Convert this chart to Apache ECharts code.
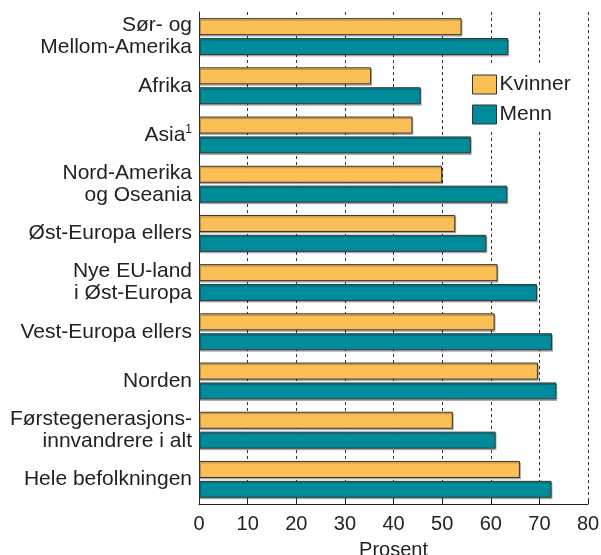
<!DOCTYPE html>
<html>
<head>
<meta charset="utf-8">
<script src="https://cdn.jsdelivr.net/npm/echarts@6/dist/echarts.min.js"></script>
<style>
  html, body { margin: 0; padding: 0; background: #fff; }
  #chart { width: 601px; height: 555px; }
</style>
</head>
<body>
<div id="chart"></div>
<script>
const categories = [
  'Sør- og\nMellom-Amerika',
  'Afrika',
  'Asia',
  'Nord-Amerika\nog Oseania',
  'Øst-Europa ellers',
  'Nye EU-land\ni Øst-Europa',
  'Vest-Europa ellers',
  'Norden',
  'Førstegenerasjons-\ninnvandrere i alt',
  'Hele befolkningen'
];
const kvinner = [54.0, 35.4, 43.9, 50.0, 52.7, 61.4, 60.8, 69.7, 52.2, 66.0];
const menn = [63.6, 45.6, 55.9, 63.4, 59.1, 69.5, 72.6, 73.5, 61.0, 72.5];
const xTicks = [0, 10, 20, 30, 40, 50, 60, 70, 80];

const chart = echarts.init(document.getElementById('chart'));

const barStyle = (color) => ({
  color: color,
  borderColor: '#333',
  borderWidth: 1,
  shadowColor: 'rgba(0,0,0,0.25)',
  shadowOffsetX: 1,
  shadowOffsetY: 1.5,
  shadowBlur: 0
});

chart.setOption({
  animation: false,
  textStyle: { fontFamily: 'Liberation Sans, Arial, sans-serif' },
  grid: { left: 199, right: 13, top: 12, bottom: 51, outerBoundsMode: 'none', containLabel: false },
  legend: {
    orient: 'vertical',
    left: 464,
    top: 64,
    padding: [10, 10, 6, 8],
    backgroundColor: '#fff',
    icon: 'rect',
    itemWidth: 24,
    itemHeight: 19,
    itemGap: 9,
    data: ['Kvinner', 'Menn'],
    textStyle: { fontSize: 21, color: '#222', padding: [0, 0, 0, -2] },
    itemStyle: { borderColor: '#333', borderWidth: 1 }
  },
  xAxis: {
    type: 'value',
    min: xTicks[0],
    max: xTicks[xTicks.length - 1],
    interval: 10,
    name: 'Prosent',
    nameLocation: 'middle',
    nameGap: 36,
    nameTextStyle: { fontSize: 20, color: '#222', verticalAlign: 'top' },
    axisLine: { show: true, lineStyle: { color: '#222', width: 1 } },
    axisTick: { show: true, inside: true, length: 4, lineStyle: { color: '#222' } },
    axisLabel: { fontSize: 20, color: '#222', margin: 10 },
    splitLine: { show: true, lineStyle: { color: '#333', type: [3, 3], width: 1 } }
  },
  yAxis: {
    type: 'category',
    inverse: true,
    data: categories,
    axisLine: { show: true, lineStyle: { color: '#222', width: 1 } },
    axisTick: { show: false },
    axisLabel: {
      fontSize: 21,
      lineHeight: 22,
      color: '#222',
      margin: 7,
      align: 'right',
      formatter: (v) => v === 'Asia' ? 'Asia{sup|1}' : v,
      rich: {
        sup: { fontSize: 12, verticalAlign: 'top', lineHeight: 22, padding: [0, 0, 8, 0], color: '#222' }
      }
    }
  },
  series: [
    {
      name: 'Kvinner',
      type: 'bar',
      data: kvinner,
      barCategoryGap: '25%',
      barGap: '17%',
      itemStyle: barStyle('#FBBF56')
    },
    {
      name: 'Menn',
      type: 'bar',
      data: menn,
      barCategoryGap: '25%',
      barGap: '17%',
      itemStyle: barStyle('#008B9A')
    }
  ]
});
</script>
</body>
</html>
